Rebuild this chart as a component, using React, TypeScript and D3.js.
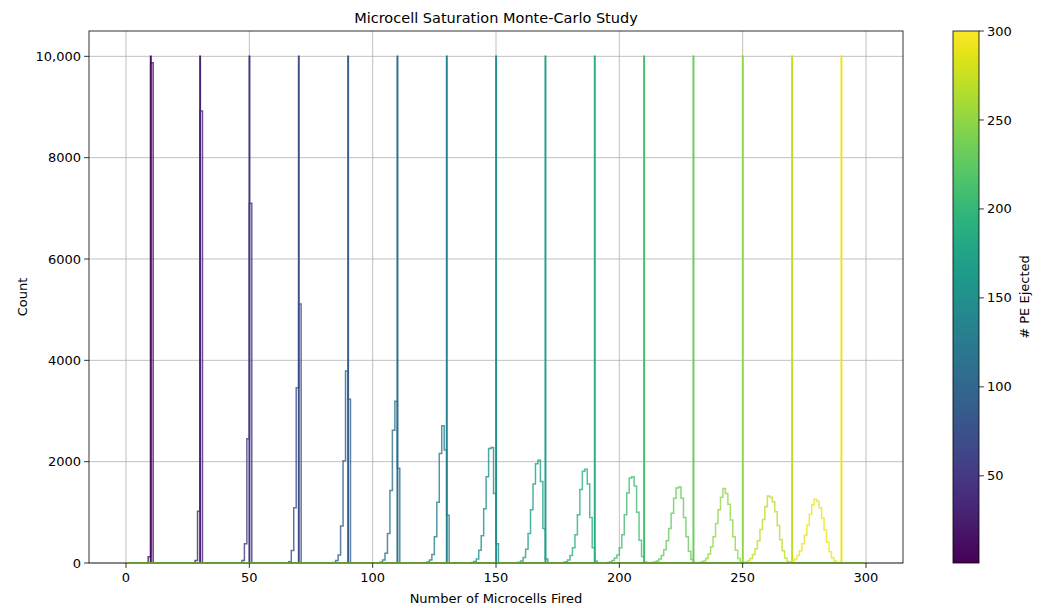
import React from "react";
import * as d3 from "d3";

// ---- Data ----
const peEjected = [10, 30, 50, 70, 90, 110, 130, 150, 170, 190, 210, 230, 250, 270, 290];
const eventsPerRun = 10000;

// first bin (Number of Microcells Fired) of each fired-distribution
const firedFirstBin = [9, 28, 47, 65, 84, 103, 122, 140, 159, 177, 195, 213, 232, 250, 268];

const fired010 = [125, 9875];
const fired030 = [50, 1020, 8920];
const fired050 = [50, 380, 2450, 7100];
const fired070 = [5, 25, 245, 1090, 3460, 5110];
const fired090 = [10, 50, 160, 730, 2020, 3790, 3230];
const fired110 = [15, 60, 190, 580, 1430, 2620, 3190, 1870];
const fired130 = [20, 60, 170, 520, 1200, 2160, 2710, 2230, 940];
const fired150 = [10, 30, 80, 250, 540, 1070, 1700, 2260, 2280, 1370, 380];
const fired170 = [15, 40, 110, 270, 580, 1050, 1560, 1960, 2030, 1610, 680, 80];
const fired190 = [10, 25, 60, 150, 300, 560, 950, 1450, 1810, 1850, 1560, 900, 300, 40];
const fired210 = [10, 20, 50, 100, 160, 300, 560, 950, 1380, 1680, 1700, 1520, 1000, 450, 130, 20];
const fired230 = [10, 20, 40, 80, 150, 260, 440, 680, 980, 1280, 1480, 1500, 1280, 900, 520, 230, 70, 10];
const fired250 = [10, 20, 40, 90, 180, 320, 520, 780, 1050, 1300, 1470, 1370, 1160, 850, 520, 250, 90, 20, 3];
const fired270 = [10, 20, 50, 90, 170, 280, 440, 660, 860, 1110, 1320, 1300, 1210, 1010, 740, 460, 240, 100, 30, 6];
const fired290 = [10, 20, 45, 80, 150, 240, 380, 550, 750, 960, 1150, 1260, 1220, 1090, 890, 650, 410, 220, 100, 40, 10];

const firedCounts = [
  fired010, fired030, fired050, fired070, fired090, fired110, fired130, fired150,
  fired170, fired190, fired210, fired230, fired250, fired270, fired290,
];

const xTicks = [0, 50, 100, 150, 200, 250, 300];
const yTicks = [0, 2000, 4000, 6000, 8000, 10000];
const yTickLabels = ["0", "2000", "4000", "6000", "8000", "10,000"];
const cbTicks = [50, 100, 150, 200, 250, 300];

const binLo = 0;
const binHi = 300;
const spikeBinWidth = 0.1; // constant PE value histogrammed into 10 bins over ±0.5

// ---- Layout ----
const W = 1046;
const H = 608;
const L = 89, R = 903, T = 31, B = 563;
const CBL = 953, CBR = 979;
const FONT = "DejaVu Sans, sans-serif";

const x = d3.scaleLinear().domain([-15, 315]).range([L, R]);
const y = d3.scaleLinear().domain([0, 10500]).range([B, T]);
const cNorm = d3.scaleLinear().domain([1, 300]).range([0, 1]);
const cbY = d3.scaleLinear().domain([1, 300]).range([B, T]);
const color = (v: number) => d3.interpolateViridis(cNorm(v));

function stepPath(counts: number[], lo: number, w: number) {
  const p = d3.path();
  p.moveTo(x(lo), y(0));
  for (let i = 0; i < counts.length; i++) {
    p.lineTo(x(lo + i * w), y(counts[i]));
    p.lineTo(x(lo + (i + 1) * w), y(counts[i]));
  }
  p.lineTo(x(lo + counts.length * w), y(0));
  return p.toString();
}

function fullCounts(first: number, vals: number[]) {
  const arr = new Array(binHi - binLo).fill(0);
  vals.forEach((v, i) => {
    const b = first + i - binLo;
    if (b >= 0 && b < arr.length) arr[b] += v;
  });
  return arr;
}

function spikeCounts() {
  const arr = new Array(10).fill(0);
  arr[5] = eventsPerRun;
  return arr;
}

export default function App() {
  const stops = d3.range(0, 1.0001, 0.05);
  return (
    <svg
      width={W}
      height={H}
      style={{ position: "absolute", left: 0, top: 0, background: "#fff" }}
      fontFamily={FONT}
    >
      <defs>
        <linearGradient id="viridisGrad" x1="0" y1="1" x2="0" y2="0">
          {stops.map((s) => (
            <stop key={s} offset={s} stopColor={d3.interpolateViridis(s)} />
          ))}
        </linearGradient>
        <clipPath id="plotClip">
          <rect x={L} y={T} width={R - L} height={B - T} />
        </clipPath>
      </defs>
      <rect x={0} y={0} width={W} height={H} fill="#fff" />

      {/* grid */}
      {xTicks.map((t) => (
        <line key={"gx" + t} x1={x(t)} x2={x(t)} y1={T} y2={B} stroke="#b0b0b0" strokeWidth={0.8} />
      ))}
      {yTicks.map((t) => (
        <line key={"gy" + t} x1={L} x2={R} y1={y(t)} y2={y(t)} stroke="#b0b0b0" strokeWidth={0.8} />
      ))}

      {/* histograms */}
      <g clipPath="url(#plotClip)" fill="none" strokeLinejoin="miter">
        {peEjected.map((pe, k) => {
          const c = color(pe);
          const fired = fullCounts(firedFirstBin[k], firedCounts[k]);
          return (
            <g key={pe}>
              <path d={stepPath(fired, binLo, 1)} stroke={c} strokeWidth={1.5} strokeOpacity={0.8} />
              <path d={stepPath(spikeCounts(), pe - 0.5, spikeBinWidth)} stroke={c} strokeWidth={1.7} />
            </g>
          );
        })}
      </g>

      {/* spines */}
      <rect x={L} y={T} width={R - L} height={B - T} fill="none" stroke="#000" strokeWidth={0.8} />
      <line x1={x(binLo)} x2={x(binHi)} y1={y(0)} y2={y(0)} stroke="#5e9e40" strokeWidth={1.3} />

      {/* x ticks */}
      {xTicks.map((t) => (
        <g key={"xt" + t}>
          <line x1={x(t)} x2={x(t)} y1={B} y2={B + 4.9} stroke="#000" strokeWidth={0.8} />
          <text x={x(t)} y={B + 19} fontSize={13} textAnchor="middle" fill="#000">
            {t}
          </text>
        </g>
      ))}
      {/* y ticks */}
      {yTicks.map((t, i) => (
        <g key={"yt" + t}>
          <line x1={L - 4.9} x2={L} y1={y(t)} y2={y(t)} stroke="#000" strokeWidth={0.8} />
          <text x={L - 8} y={y(t)} dy="0.35em" fontSize={13} textAnchor="end" fill="#000">
            {yTickLabels[i]}
          </text>
        </g>
      ))}

      <text x={(L + R) / 2} y={23} fontSize={14.5} textAnchor="middle" fill="#000">
        Microcell Saturation Monte-Carlo Study
      </text>
      <text x={(L + R) / 2} y={603} fontSize={13} textAnchor="middle" fill="#000">
        Number of Microcells Fired
      </text>
      <text
        transform={`translate(27,${(T + B) / 2}) rotate(-90)`}
        fontSize={13}
        textAnchor="middle"
        fill="#000"
      >
        Count
      </text>

      {/* colorbar */}
      <rect x={CBL} y={T} width={CBR - CBL} height={B - T} fill="url(#viridisGrad)" />
      <rect x={CBL} y={T} width={CBR - CBL} height={B - T} fill="none" stroke="#000" strokeWidth={0.8} />
      {cbTicks.map((t) => (
        <g key={"cb" + t}>
          <line x1={CBR} x2={CBR + 4.9} y1={cbY(t)} y2={cbY(t)} stroke="#000" strokeWidth={0.8} />
          <text x={CBR + 8} y={cbY(t)} dy="0.35em" fontSize={13} fill="#000">
            {t}
          </text>
        </g>
      ))}
      <text
        transform={`translate(1029,${(T + B) / 2}) rotate(-90)`}
        fontSize={13}
        textAnchor="middle"
        fill="#000"
      >
        # PE Ejected
      </text>
    </svg>
  );
}
